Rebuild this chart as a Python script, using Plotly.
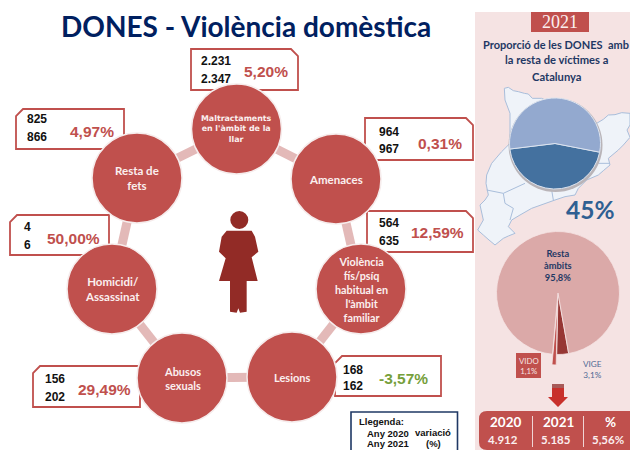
import plotly.graph_objects as go

# ---------- data ----------
categories = ["Maltractaments<br>en l'àmbit de la<br>llar", "Amenaces",
              "Violència<br>fís/psíq<br>habitual en<br>l'àmbit<br>familiar",
              "Lesions", "Abusos<br>sexuals", "Homicidi/<br>Assassinat", "Resta de<br>fets"]
values_2020 = ["2.231", "964", "564", "168", "156", "4", "825"]
values_2021 = ["2.347", "967", "635", "162", "202", "6", "866"]
variation = ["5,20%", "0,31%", "12,59%", "-3,57%", "29,49%", "50,00%", "4,97%"]

share_labels = ["DONES", "Resta"]
share_values = [45, 55]
scope_labels = ["VIGE", "VIDO", "Resta àmbits"]
scope_values = [3.1, 1.1, 95.8]

totals_head = ["2020", "2021", "%"]
totals_vals = ["4.912", "5.185", "5,56%"]

# ---------- diagram layout (pixels) ----------
W, H = 630, 450
node_x = [236.5, 336, 361, 292, 182, 112, 137]
node_y = [129, 179, 289, 377, 378, 289, 178]
node_size = 90
box_l = [191, 365, 367, 335, 33, 10, 16]
box_r = [298, 473, 473, 441, 140, 109, 124]
box_t = [49, 118, 211, 356, 366, 215, 109]
box_b = [90, 160, 252, 396, 407, 255, 149]
snip = ["tr", "tr", "tr", "tl", "tl", "tl", "tl"]
num_x = [216, 389, 389, 353, 55, 27, 37]
num_y1 = [61, 132, 223, 370, 379, 227, 119]
num_y2 = [79, 149, 241, 386, 397, 245, 137]
pct_x = [266, 440, 437, 403, 104, 73, 92]
pct_y = [71, 143, 232, 378, 389, 238, 131]

RED = "#C0504D"
NAVY = "#002060"
PANEL = "#F5E3E3"
ARIAL = "Liberation Sans"
LATO = "Lato"

fig = go.Figure()
shapes = []
annots = []


def txt(x, y, s, size, color, font=LATO, bold=True, anchor="center"):
    annots.append(dict(x=x, y=y, text=f"<b>{s}</b>" if bold else s, showarrow=False,
                       xanchor=anchor, yanchor="middle",
                       font=dict(size=size, color=color, family=font)))


def path(points, fill, line="rgba(0,0,0,0)", width=0, close=True, layer="above"):
    d = "M" + " L".join(f"{a},{b}" for a, b in points) + (" Z" if close else "")
    shapes.append(dict(type="path", path=d, fillcolor=fill, layer=layer,
                       line=dict(color=line, width=width)))


# right-hand panel
shapes.append(dict(type="rect", x0=475, x1=630, y0=12, y1=450, fillcolor=PANEL,
                   line=dict(width=0), layer="below"))

# map of Catalonia (traced outline)
map_pts = [(88, 25), (100, 22), (115, 32), (130, 35), (148, 40), (160, 42), (172, 55), (200, 55), (365, 130),
           (385, 118), (400, 105), (420, 104), (440, 98), (465, 100), (465, 135), (456, 150), (465, 172),
           (445, 195), (430, 210), (400, 235), (405, 255), (385, 272), (370, 285),
           (335, 300), (310, 325), (300, 345), (270, 350), (240, 360), (170, 385), (135, 405), (110, 420),
           (100, 440), (120, 460), (100, 468), (85, 475), (60, 495), (42, 480), (25, 465), (8, 450), (25, 420),
           (15, 375), (30, 360), (40, 345), (33, 310), (35, 285), (50, 250), (80, 215), (105, 190), (105, 100), (90, 60)]


def mp(p):
    return [(475 + a / 3, 80 + b / 3) for a, b in p]


MAPLINE = "#A9BEDB"
path(mp(map_pts), "#EFF3F9", MAPLINE, 1, layer="below")
for seg in ([(35, 330), (85, 340), (150, 310)],
            [(85, 340), (90, 370), (115, 385), (105, 420)],
            [(230, 330), (235, 360)],
            [(370, 250), (405, 250)]):
    path(mp(seg), "rgba(0,0,0,0)", MAPLINE, 1, close=False, layer="below")

# callout boxes
for l, r, t, b, c, v in zip(box_l, box_r, box_t, box_b, snip, variation):
    s = 7
    if c == "tr":
        pts = [(l, t), (r - s, t), (r, t + s), (r, b), (l, b)]
    else:
        pts = [(l + s, t), (r, t), (r, b), (l, b), (l, t + s)]
    path(pts, "white", RED, 1.8, layer="below")

# ring connectors, drawn under the nodes
for i in range(len(node_x)):
    j = (i + 1) % len(node_x)
    fig.add_trace(go.Scatter(x=[node_x[i], node_x[j]], y=[node_y[i], node_y[j]], mode="lines",
                             line=dict(color="#E3B9B8", width=9), hoverinfo="skip", showlegend=False))

# nodes
fig.add_trace(go.Scatter(x=node_x, y=node_y, mode="markers", showlegend=False, hovertext=categories,
                         marker=dict(size=node_size, color=RED, line=dict(color="#F6ECEC", width=1.5))))

# node labels
node_font = [("DejaVu Sans", 7.9), (LATO, 11.5), (LATO, 10.8), (LATO, 11), (LATO, 11), (LATO, 11.5), (LATO, 11.5)]
for x, y, c, (f, sz) in zip(node_x, node_y, categories, node_font):
    txt(x, y, c, sz, "#FBEFEF", f)

# callout texts
for i in range(len(categories)):
    txt(num_x[i], num_y1[i], values_2020[i], 12, "#111111", ARIAL)
    txt(num_x[i], num_y2[i], values_2021[i], 12, "#111111", ARIAL)
    txt(pct_x[i], pct_y[i], variation[i], 15.5, "#76A03C" if variation[i].startswith("-") else RED, ARIAL)

# title
txt(246, 26, "DONES - Violència domèstica", 28, NAVY)

# woman icon
shapes.append(dict(type="circle", x0=230.3, x1=248.3, y0=211, y1=229, fillcolor="#922B26", line=dict(width=0)))
body = [(65, 92), (140, 92), (150, 110), (160, 155), (140, 172), (158, 243), (125, 243), (125, 335),
        (105, 338), (100, 325), (95, 338), (75, 335), (75, 243), (42, 243), (62, 175), (42, 155), (50, 110)]
path([(205 + a / 3, 200 + b / 3) for a, b in body], "#922B26")

# legend box
shapes.append(dict(type="rect", x0=351, x1=457.5, y0=412, y1=470, fillcolor="white",
                   line=dict(color="#1F3864", width=1.6)))
txt(357, 421, "Llegenda:", 9.5, "#111111", ARIAL, anchor="left")
txt(388, 433, "Any 2020", 9.5, "#111111", ARIAL)
txt(388, 443.5, "Any 2021", 9.5, "#111111", ARIAL)
txt(433, 432, "variació", 9.5, "#111111", ARIAL)
txt(433, 443.5, "(%)", 9.5, "#111111", ARIAL)

# 2021 tag
shapes.append(dict(type="rect", x0=531, x1=589, y0=12, y1=32, fillcolor=RED, line=dict(width=0)))
txt(559.5, 22, "2021", 18, "#FBEFEF", "Liberation Serif", bold=False)

# panel header
txt(480.5, 44, "Proporció de les DONES  amb", 11, "#1F3864", anchor="left")
txt(557, 59.5, "la resta de víctimes a", 11.2, "#1F3864")
txt(557, 76, "Catalunya", 11.2, "#1F3864")

# pie 1
cx, cy, r = 555, 143.5, 45.5
shapes.append(dict(type="circle", x0=cx - r - 1, x1=cx + r + 2, y0=cy - r, y1=cy + r + 3,
                   fillcolor="#B9B4B8", line=dict(width=0), layer="below"))
fig.add_trace(go.Pie(labels=share_labels, values=share_values, sort=False, direction="clockwise",
                     rotation=101, textinfo="none", showlegend=False, hole=0,
                     marker=dict(colors=["#44719F", "#93A9CF"], line=dict(color="#DCE4F0", width=1)),
                     domain=dict(x=[(cx - r) / W, (cx + r) / W], y=[1 - (cy + r) / H, 1 - (cy - r) / H])))
txt(590, 209, "45%", 24.5, "#2F5F92")

# pie 2
cx2, cy2, r2 = 558, 293, 61.5
pull = 0.17
half = r2 * (1 + pull)
fig.add_trace(go.Pie(labels=scope_labels, values=scope_values, sort=False, direction="clockwise",
                     rotation=170, textinfo="none", showlegend=False, pull=[0, pull, 0],
                     marker=dict(colors=["#963634", RED, "#DBA9A8"], line=dict(color="#F5E3E3", width=0.8)),
                     domain=dict(x=[(cx2 - half) / W, (cx2 + half) / W],
                                 y=[1 - (cy2 + half) / H, 1 - (cy2 - half) / H])))
txt(558, 265, "Resta<br>àmbits<br>95,8%", 9.3, "#1F3864")

shapes.append(dict(type="rect", x0=516, x1=541, y0=353, y1=378, fillcolor=RED, line=dict(width=0)))
txt(528.5, 365.5, "VIDO<br>1,1%", 7.8, "#F5E3E3", bold=False)
txt(592, 369, "VIGE<br>3,1%", 8.2, "#4F6A94", bold=False)

# arrow
path([(552, 384), (564, 384), (564, 397), (568, 397), (558, 407), (548, 397), (552, 397)], "#C8302B")
shapes.append(dict(type="rect", x0=552, x1=564, y0=384, y1=388, fillcolor="#A85A58", line=dict(width=0)))

# totals box
shapes.append(dict(type="path", path="M630,411 L487,411 Q479,411 479,419 L479,442 Q479,450 487,450 L630,450 Z",
                   fillcolor=RED, line=dict(width=0)))
for x in (532.5, 583.5):
    shapes.append(dict(type="line", x0=x, x1=x, y0=416, y1=447, line=dict(color="#F0D5D5", width=1)))
for x, a, b in zip((505, 558, 610), totals_head, totals_vals):
    txt(x, 422, a, 13.5, "white")
    txt(x - 2, 439, b, 11.5, "#FBEFEF")

fig.update_layout(width=W, height=H, margin=dict(l=0, r=0, t=0, b=0), paper_bgcolor="white",
                  plot_bgcolor="rgba(0,0,0,0)", shapes=shapes, annotations=annots, hovermode=False,
                  xaxis=dict(range=[0, W], visible=False, fixedrange=True),
                  yaxis=dict(range=[H, 0], visible=False, fixedrange=True))

fig.write_html("out.html", config=dict(displayModeBar=False),
               post_script="document.body.style.margin='0';document.body.style.overflow='hidden';")
